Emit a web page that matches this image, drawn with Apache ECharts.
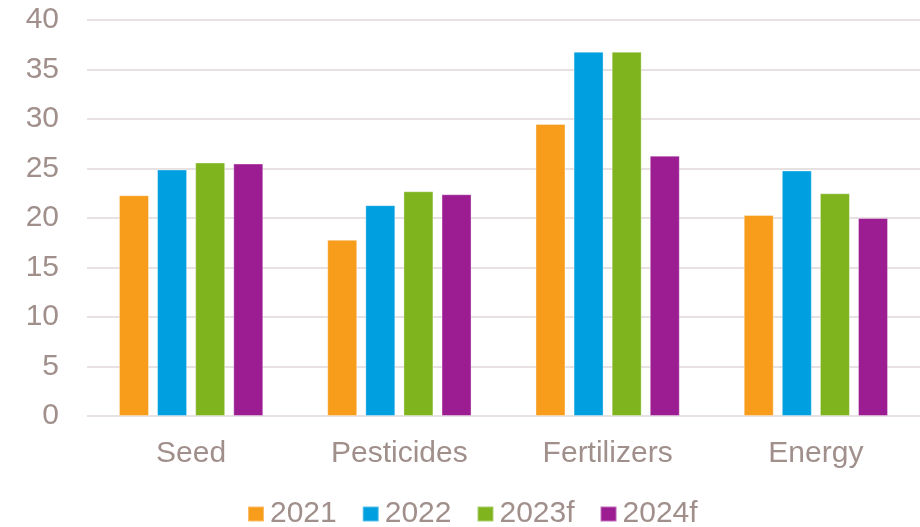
<!DOCTYPE html>
<html>
<head>
<meta charset="utf-8">
<script src="https://cdn.jsdelivr.net/npm/echarts@6/dist/echarts.min.js"></script>
<style>
  html, body { margin: 0; padding: 0; background: #ffffff; }
  #chart { width: 920px; height: 527px; }
</style>
</head>
<body>
<div id="chart"></div>
<script>
// Input cost categories and yearly values
const categories = ['Seed', 'Pesticides', 'Fertilizers', 'Energy'];
const seriesNames = ['2021', '2022', '2023f', '2024f'];
const values2021 = [22.3, 17.8, 29.5, 20.3];
const values2022 = [24.9, 21.3, 36.8, 24.8];
const values2023f = [25.6, 22.7, 36.8, 22.5];
const values2024f = [25.5, 22.4, 26.3, 20.0];
const yTicks = [0, 5, 10, 15, 20, 25, 30, 35, 40];

const colors = ['#F89C1C', '#009FDF', '#7FB41F', '#9C1C92'];
const textColor = '#A08F8B';
const font = 'Liberation Sans, Arial, sans-serif';

const allValues = [values2021, values2022, values2023f, values2024f];

const chart = echarts.init(document.getElementById('chart'), null, { renderer: 'canvas' });
chart.setOption({
  animation: false,
  color: colors,
  grid: { left: 87, right: -4, top: 20, bottom: 111 },
  legend: {
    data: seriesNames,
    bottom: -2,
    left: 247,
    padding: 0,
    itemWidth: 16,
    itemHeight: 15,
    itemGap: 25,
    icon: 'rect',
    textStyle: { color: textColor, fontSize: 30, fontFamily: font, padding: [0, 0, 0, 1] }
  },
  xAxis: {
    type: 'category',
    data: categories,
    axisLine: { show: false },
    axisTick: { show: false },
    axisLabel: { color: textColor, fontSize: 30, fontFamily: font, margin: 23 }
  },
  yAxis: {
    type: 'value',
    min: yTicks[0],
    max: yTicks[yTicks.length - 1],
    interval: 5,
    axisLine: { show: false },
    axisTick: { show: false },
    axisLabel: { color: textColor, fontSize: 30, fontFamily: font, margin: 28 },
    splitLine: { lineStyle: { color: '#E8E1E2', width: 2 } }
  },
  series: seriesNames.map((name, i) => ({
    name: name,
    type: 'bar',
    data: allValues[i],
    barWidth: 30,
    barGap: '27%',
    itemStyle: { borderColor: 'rgba(255,255,255,0.35)', borderWidth: 1 }
  }))
});
</script>
</body>
</html>
